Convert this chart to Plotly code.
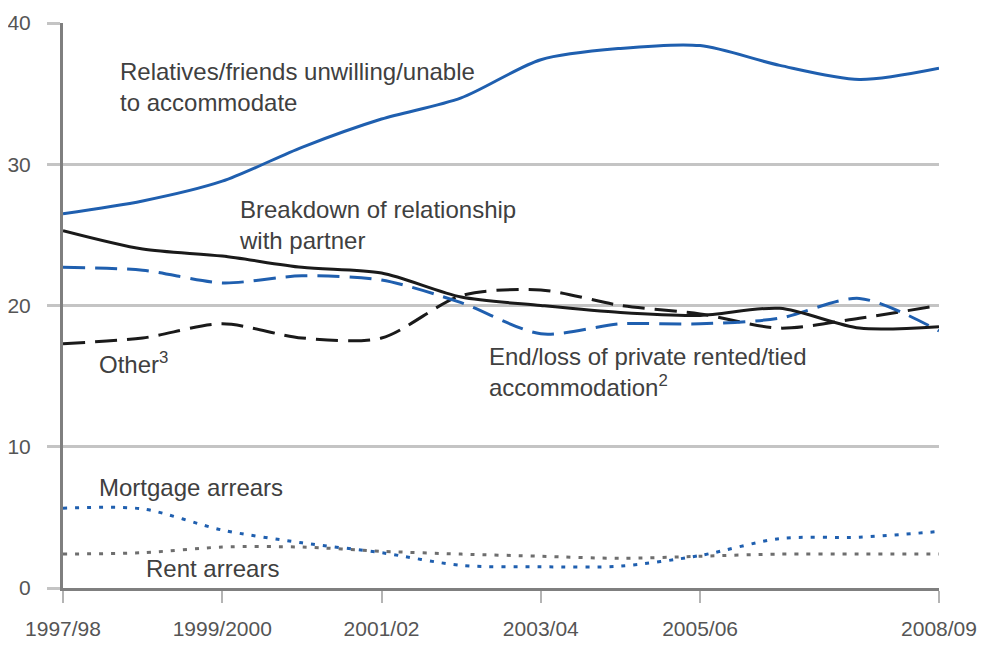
import plotly.graph_objects as go

# homelessness acceptances by reason, percentages
years = ['1997/98', '1998/99', '1999/2000', '2000/01', '2001/02', '2002/03',
         '2003/04', '2004/05', '2005/06', '2006/07', '2007/08', '2008/09']
tick_labels = ['1997/98', '1999/2000', '2001/02', '2003/04', '2005/06', '2008/09']

relatives = [26.5, 27.4, 28.8, 31.2, 33.2, 34.7, 37.4, 38.2, 38.4, 37.0, 36.0, 36.8]
breakdown = [25.3, 24.0, 23.5, 22.7, 22.3, 20.6, 20.0, 19.5, 19.3, 19.8, 18.4, 18.5]
private_rented = [22.7, 22.5, 21.6, 22.1, 21.8, 20.2, 18.0, 18.7, 18.7, 19.1, 20.5, 18.2]
other = [17.3, 17.7, 18.7, 17.7, 17.7, 20.7, 21.1, 20.0, 19.4, 18.4, 19.1, 20.0]
mortgage = [5.65, 5.6, 4.1, 3.2, 2.5, 1.6, 1.5, 1.55, 2.3, 3.5, 3.6, 4.0]
rent = [2.4, 2.5, 2.9, 2.9, 2.6, 2.4, 2.25, 2.1, 2.25, 2.4, 2.4, 2.4]

BLUE = '#1f5faf'
BLACK = '#1a1a1a'
GREY = '#6e6e6e'
TEXT = '#404040'
FONT = 'Liberation Sans, Arial, sans-serif'

x = list(range(len(years)))
tick_pos = [years.index(t) for t in tick_labels]

fig = go.Figure()
series = [
    (rent, GREY, '4px,8px', 3),
    (mortgage, BLUE, '4px,8px', 3),
    (other, BLACK, '22px,10px', 3),
    (private_rented, BLUE, '22px,10px', 3),
    (breakdown, BLACK, 'solid', 3),
    (relatives, BLUE, 'solid', 3),
]
for vals, color, dash, width in series:
    fig.add_trace(go.Scatter(
        x=x, y=vals, mode='lines',
        line=dict(color=color, dash=dash, width=width, shape='spline', smoothing=0.8),
        hoverinfo='skip'
    ))

labels = [
    (0.69, 35.5, 'Relatives/friends unwilling/unable<br>to accommodate'),
    (2.19, 25.7, 'Breakdown of relationship<br>with partner'),
    (0.43, 15.9, 'Other<sup>3</sup>'),
    (5.33, 15.3, 'End/loss of private rented/tied<br>accommodation<sup>2</sup>'),
    (0.43, 7.1, 'Mortgage arrears'),
    (1.02, 1.4, 'Rent arrears'),
]
for lx, ly, txt in labels:
    fig.add_annotation(
        x=lx, y=ly, text=txt, showarrow=False,
        xanchor='left', yanchor='middle', align='left',
        font=dict(family=FONT, size=24, color=TEXT)
    )

# page body has an 8px margin, so the figure is a bit smaller than the window
fig.update_layout(
    width=977, height=649,
    margin=dict(l=55, r=46, t=15, b=69),
    plot_bgcolor='white', paper_bgcolor='white',
    showlegend=False,
    font=dict(family=FONT, size=21, color='#555555'),
    xaxis=dict(
        range=[0, 11], tickmode='array', tickvals=tick_pos, ticktext=tick_labels,
        showgrid=False, zeroline=False, automargin=False,
        showline=True, linecolor='#7f7f7f', linewidth=3,
        ticks='outside', ticklen=12, tickwidth=2, tickcolor='#b4b4b4',
        ticklabelstandoff=8,
    ),
    yaxis=dict(
        range=[0, 40], tickvals=[0, 10, 20, 30, 40],
        showgrid=True, gridcolor='#c4c4c4', gridwidth=3,
        zeroline=False, automargin=False,
        showline=True, linecolor='#7f7f7f', linewidth=3,
        ticks='outside', ticklen=13, tickwidth=3, tickcolor='#c4c4c4',
        ticklabelstandoff=12,
    ),
)

fig.write_html('out.html')
